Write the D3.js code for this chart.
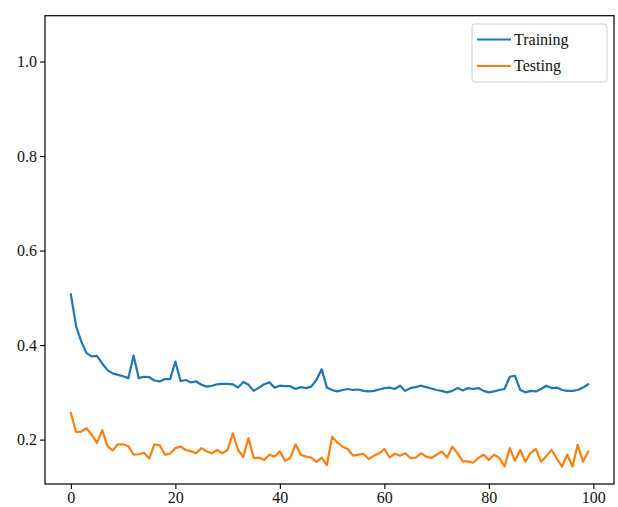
<!DOCTYPE html>
<html>
<head>
<meta charset="utf-8">
<script src="https://cdn.jsdelivr.net/npm/d3@7"></script>
<style>
  body { margin: 0; background: #fff; }
</style>
</head>
<body>
<div id="chart"></div>
<script>
// loss per epoch
const training = [
  0.507, 0.440, 0.407, 0.383, 0.376, 0.377, 0.361, 0.347, 0.340, 0.337,
  0.334, 0.330, 0.378, 0.330, 0.333, 0.332, 0.325, 0.323, 0.328, 0.328,
  0.365, 0.324, 0.326, 0.321, 0.323, 0.316, 0.312, 0.314, 0.317, 0.318,
  0.318, 0.317, 0.310, 0.322, 0.316, 0.303, 0.310, 0.317, 0.321, 0.310,
  0.314, 0.313, 0.313, 0.307, 0.311, 0.309, 0.312, 0.326, 0.349, 0.310,
  0.305, 0.302, 0.305, 0.307, 0.305, 0.306, 0.303, 0.302, 0.303, 0.306,
  0.309, 0.310, 0.307, 0.314, 0.303, 0.309, 0.311, 0.314, 0.311, 0.308,
  0.305, 0.303, 0.300, 0.303, 0.309, 0.304, 0.309, 0.307, 0.309, 0.303,
  0.300, 0.302, 0.305, 0.307, 0.333, 0.335, 0.305, 0.300, 0.303, 0.302,
  0.307, 0.314, 0.309, 0.310, 0.305, 0.303, 0.303, 0.305, 0.310, 0.317,
];

const testing = [
  0.256, 0.216, 0.217, 0.224, 0.210, 0.193, 0.220, 0.186, 0.177, 0.190,
  0.190, 0.186, 0.168, 0.169, 0.172, 0.160, 0.190, 0.188, 0.168, 0.170,
  0.182, 0.185, 0.178, 0.175, 0.171, 0.182, 0.175, 0.171, 0.178, 0.171,
  0.178, 0.213, 0.178, 0.163, 0.203, 0.161, 0.162, 0.157, 0.168, 0.164,
  0.175, 0.155, 0.161, 0.190, 0.168, 0.164, 0.162, 0.153, 0.162, 0.146,
  0.206, 0.194, 0.185, 0.180, 0.166, 0.168, 0.170, 0.159, 0.166, 0.171,
  0.180, 0.162, 0.170, 0.166, 0.171, 0.161, 0.162, 0.171, 0.164, 0.161,
  0.168, 0.175, 0.162, 0.185, 0.171, 0.154, 0.154, 0.151, 0.161, 0.168,
  0.157, 0.168, 0.161, 0.143, 0.182, 0.155, 0.178, 0.153, 0.172, 0.180,
  0.153, 0.165, 0.178, 0.160, 0.143, 0.168, 0.143, 0.189, 0.153, 0.175,
];

const seriesNames = ["Training", "Testing"];
const seriesColors = ["#1f77b4", "#ff7f0e"];
const xTicks = [0, 20, 40, 60, 80, 100];
const yTicks = [0.2, 0.4, 0.6, 0.8, 1.0];

const serif = '"Liberation Serif", "DejaVu Serif", serif';

const W = 618, H = 507;
const margin = { top: 15.7, right: 4, bottom: 23, left: 45 };
const width = W - margin.left - margin.right,
  height = H - margin.top - margin.bottom;

const svg = d3
  .select("#chart")
  .append("svg")
  .attr("width", W)
  .attr("height", H)
  .style("font-family", serif);

const g = svg
  .append("g")
  .attr("transform", `translate(${margin.left},${margin.top})`);

// matplotlib-style 5% padding on x
const x = d3.scaleLinear().domain([-4.95, 103.95]).range([0, width]);
const y = d3.scaleLinear().domain([0.106, 1.097]).range([height, 0]);

const styleAxis = (ax) => {
  ax.select(".domain").remove();
  ax.selectAll(".tick line").attr("stroke", "#000").attr("stroke-width", 1.1);
  ax.selectAll(".tick text")
    .attr("fill", "#111")
    .style("font-family", serif)
    .style("font-size", "16px");
};

g.append("g")
  .attr("transform", `translate(0,${height})`)
  .call(d3.axisBottom(x).tickValues(xTicks).tickSize(5).tickPadding(3))
  .call(styleAxis);

g.append("g")
  .call(
    d3.axisLeft(y).tickValues(yTicks).tickFormat(d3.format(".1f")).tickSize(5).tickPadding(3)
  )
  .call(styleAxis);

// lines
const line = d3
  .line()
  .x((d, i) => x(i))
  .y((d) => y(d));

g.append("g")
  .attr("class", "lines")
  .selectAll("path")
  .data([training, testing])
  .join("path")
  .attr("fill", "none")
  .attr("stroke", (d, i) => seriesColors[i])
  .attr("stroke-width", 2.2)
  .attr("stroke-linejoin", "round")
  .attr("stroke-linecap", "square")
  .attr("d", (d) => line(d));

// frame
g.append("rect")
  .attr("width", width)
  .attr("height", height)
  .attr("fill", "none")
  .attr("stroke", "#000")
  .attr("stroke-width", 1.2);

// legend, upper right
const legend = svg.append("g").attr("transform", "translate(472,24)");

legend
  .append("rect")
  .attr("width", 135)
  .attr("height", 58)
  .attr("rx", 3)
  .attr("fill", "#fff")
  .attr("fill-opacity", 0.8)
  .attr("stroke", "#d0d0d0");

const keys = legend.selectAll("g").data(seriesNames).join("g")
  .attr("transform", (d, i) => `translate(0,${15.5 + i * 26.5})`);

keys
  .append("line")
  .attr("x1", 5)
  .attr("x2", 39)
  .attr("stroke", (d, i) => seriesColors[i])
  .attr("stroke-width", 2);

keys
  .append("text")
  .attr("x", 42)
  .attr("dy", "0.33em")
  .style("font-family", serif)
  .style("font-size", "16px")
  .attr("fill", "#111")
  .text((d) => d);
</script>
</body>
</html>
